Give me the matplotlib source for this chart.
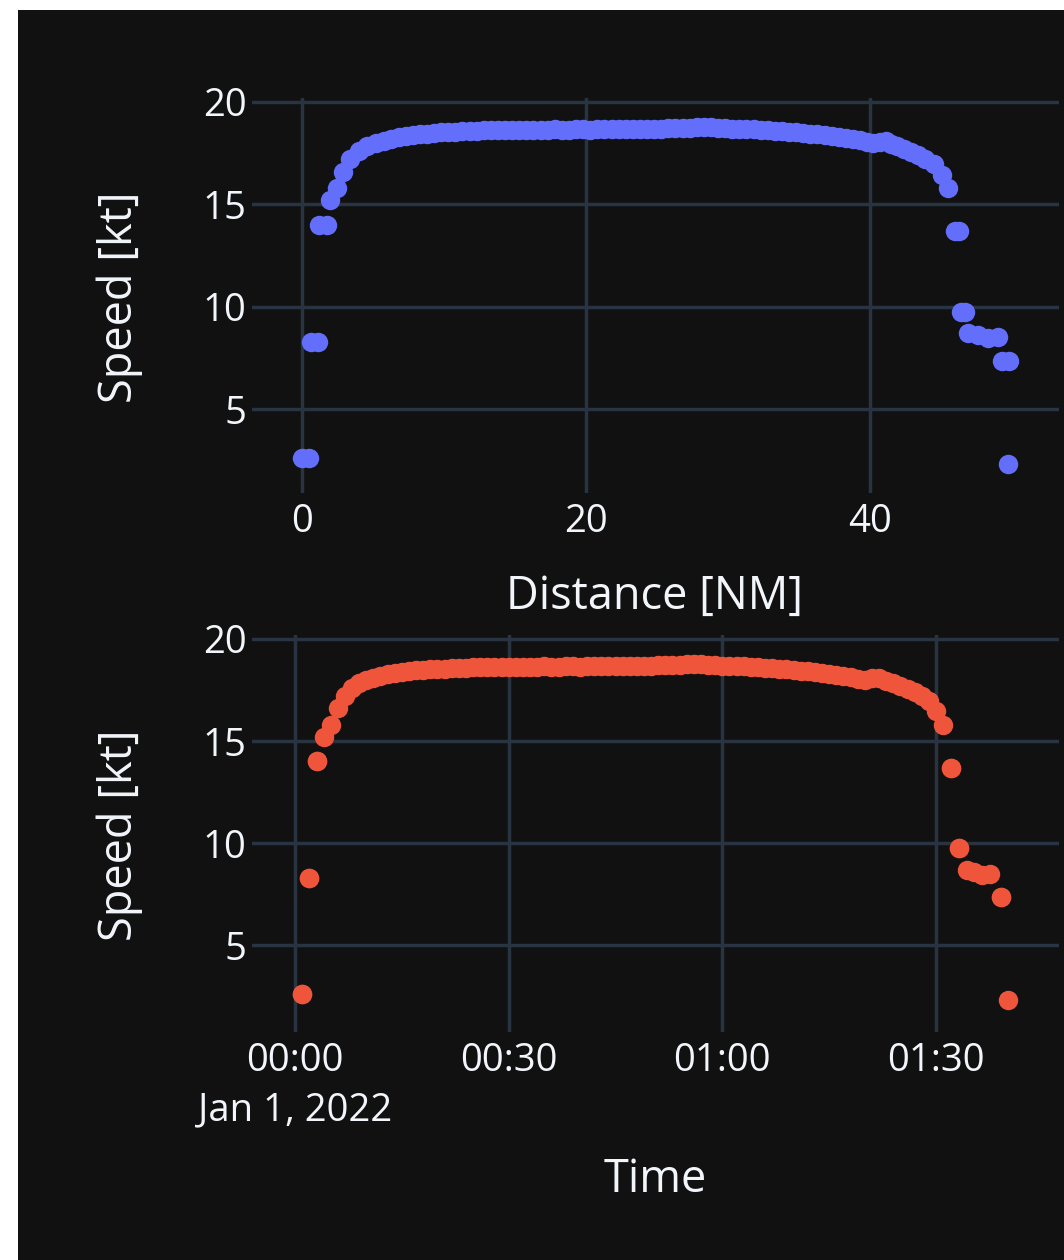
import matplotlib
matplotlib.use("Agg")
import matplotlib.pyplot as plt
from matplotlib.patches import Rectangle

# one row per position report: minutes after 00:00 Jan 1 2022, cumulative NM, kt
time_min = [1.0, 1.0, 2.0, 2.0, 3.1, 3.1, 4, 5, 6, 7, 8, 9, 10, 11,
            12, 13, 14, 15, 16, 17, 18, 19, 20, 21, 22, 23, 24, 25, 26, 27,
            28, 29, 30, 31, 32, 33, 34, 35, 36, 37, 38, 39, 40, 41, 42, 43,
            44, 45, 46, 47, 48, 49, 50, 51, 52, 53, 54, 55, 56, 57, 58, 59,
            60, 61, 62, 63, 64, 65, 66, 67, 68, 69, 70, 71, 72, 73, 74, 75,
            76, 77, 78, 79, 80, 81, 82, 83, 84, 85, 86, 87, 88, 89, 90, 91,
            92.1, 92.1, 93.2, 93.2, 94.3, 95.3, 96.4, 97.6, 99.1, 99.1, 100.1]
distance_nm = [0.0, 0.5, 0.6, 1.1, 1.2, 1.75, 2.0, 2.45, 2.9, 3.4, 4.0,
               4.6, 5.2, 5.8,
               6.3, 6.8, 7.3, 7.8, 8.3, 8.8, 9.3, 9.8, 10.3, 10.8, 11.3,
               11.8, 12.3, 12.8, 13.3, 13.8, 14.3, 14.8, 15.3, 15.8, 16.3,
               16.8, 17.3, 17.8, 18.3, 18.8, 19.3, 19.8, 20.3, 20.8, 21.3,
               21.8, 22.3, 22.8, 23.3, 23.8, 24.3, 24.8, 25.3, 25.8, 26.3,
               26.8, 27.3, 27.8, 28.3, 28.8, 29.3, 29.8, 30.3, 30.8, 31.3,
               31.8, 32.3, 32.8, 33.3, 33.8, 34.3, 34.8, 35.3, 35.8, 36.3,
               36.8, 37.3, 37.8, 38.3, 38.8, 39.3, 39.8, 40.2, 40.7, 41.1,
               41.5, 41.9, 42.4, 42.9, 43.4, 43.9, 44.5, 45.1, 45.5,
               46.0, 46.3, 46.4, 46.7, 46.9, 47.6, 48.3, 49.0, 49.3, 49.8,
               49.7]
speed_kt = [2.6, 2.6, 8.3, 8.3, 14.0, 14.0, 15.2, 15.8, 16.6, 17.2, 17.6,
            17.85, 18.0, 18.1,
            18.2, 18.28, 18.34, 18.39, 18.43, 18.46, 18.49, 18.51, 18.53,
            18.55, 18.57, 18.58, 18.6, 18.61, 18.62, 18.63, 18.63, 18.64,
            18.64, 18.65, 18.65, 18.64, 18.65, 18.66, 18.65, 18.65, 18.66,
            18.66, 18.65, 18.66, 18.67, 18.66, 18.67, 18.67, 18.68, 18.68,
            18.69, 18.7, 18.7, 18.71, 18.72, 18.73, 18.75, 18.77, 18.78,
            18.76, 18.73, 18.71, 18.7, 18.69, 18.67, 18.66, 18.64, 18.62,
            18.6, 18.57, 18.54, 18.51, 18.48, 18.45, 18.42, 18.38, 18.35,
            18.3, 18.25, 18.2, 18.14, 18.06, 18.0, 18.07, 18.08, 17.95,
            17.85, 17.7, 17.55, 17.4, 17.2, 16.95, 16.45, 15.8,
            13.7, 13.7, 9.75, 9.75, 8.7, 8.6, 8.45, 8.5, 7.35, 7.35, 2.3]

dist_ticks = [0, 20, 40]
time_ticks = [0, 30, 60, 90]
time_labels = ["00:00\nJan 1, 2022", "00:30", "01:00", "01:30"]
speed_ticks = [5, 10, 15, 20]

BG = "#111111"
GRID = "#283442"
FG = "#f2f5fa"
plt.rcParams["font.family"] = ["Open Sans", "DejaVu Sans"]

W, H = 1064, 1260
fig = plt.figure(figsize=(W / 100, H / 100), dpi=100, facecolor="white")
fig.add_artist(Rectangle((18 / W, 0), 1 - 18 / W, 1 - 10 / H,
                         transform=fig.transFigure, facecolor=BG,
                         edgecolor="none", zorder=0))


def box(left, top, right, bottom):
    return [left / W, 1 - bottom / H, (right - left) / W, (bottom - top) / H]


def style(ax):
    ax.set_facecolor(BG)
    for s in ax.spines.values():
        s.set_visible(False)
    ax.set_axisbelow(True)
    ax.grid(True, color=GRID, lw=2.5)
    ax.tick_params(length=0, labelsize=27.5, labelcolor=FG)
    ax.tick_params(axis="y", pad=4)
    ax.tick_params(axis="x", pad=7)
    ax.set_yticks(speed_ticks)


ax1 = fig.add_axes(box(252, 98, 1059, 493))
style(ax1)
ax1.plot(distance_nm, speed_kt, "o", ms=14, mew=0, color="#636efa")
ax1.set_xlim(-3.52, 53.31)
ax1.set_ylim(0.90, 20.195)
ax1.set_xticks(dist_ticks)

ax2 = fig.add_axes(box(252, 635, 1059, 1032))
style(ax2)
ax2.plot(time_min, speed_kt, "o", ms=14, mew=0, color="#ef553b")
ax2.set_xlim(-6.04, 107.27)
ax2.set_ylim(0.74, 20.196)
ax2.set_xticks(time_ticks)
ax2.set_xticklabels(time_labels)
for lbl in ax2.get_xticklabels():
    lbl.set_linespacing(1.4)

fig.text(120 / W, 1 - 297 / H, "Speed [kt]", rotation=90, fontsize=32.5,
         color=FG, ha="center", va="center")
fig.text(120 / W, 1 - 835 / H, "Speed [kt]", rotation=90, fontsize=32.5,
         color=FG, ha="center", va="center")
fig.text(655 / W, 1 - 597 / H, "Distance [NM]", fontsize=32.5, color=FG,
         ha="center", va="center")
fig.text(655 / W, 1 - 1180 / H, "Time", fontsize=32.5, color=FG,
         ha="center", va="center")

fig.savefig("out.png", dpi=100, facecolor="white")
